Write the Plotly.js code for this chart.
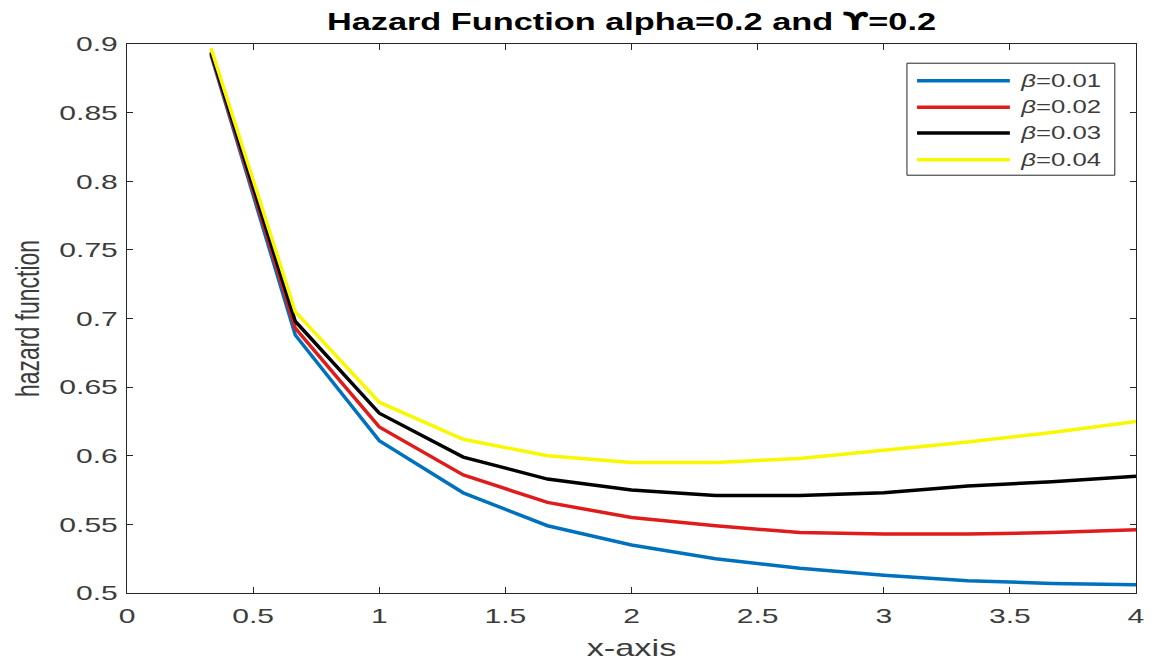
<!DOCTYPE html>
<html>
<head>
<meta charset="utf-8">
<script src="https://cdn.plot.ly/plotly-3.0.1.min.js"></script>
<style>
  html, body { margin: 0; padding: 0; background: #fff; }
  #chart { width: 1156px; height: 661px; }
</style>
</head>
<body>
<div id="chart"></div>
<script>
// x grid of the hazard evaluation
const xVals = [0.333, 0.667, 1, 1.333, 1.667, 2, 2.333, 2.667, 3, 3.333, 3.667, 4];

// hazard values for each beta
const hBeta001 = [0.892, 0.688, 0.611, 0.573, 0.549, 0.535, 0.525, 0.518, 0.513, 0.509, 0.507, 0.506];
const hBeta002 = [0.893, 0.693, 0.621, 0.586, 0.566, 0.555, 0.549, 0.544, 0.543, 0.543, 0.544, 0.546];
const hBeta003 = [0.894, 0.698, 0.631, 0.599, 0.583, 0.575, 0.571, 0.571, 0.573, 0.578, 0.581, 0.585];
const hBeta004 = [0.897, 0.705, 0.639, 0.612, 0.600, 0.595, 0.595, 0.598, 0.604, 0.610, 0.617, 0.625];

const seriesNames = ['β=0.01', 'β=0.02', 'β=0.03', 'β=0.04'];
const seriesColors = ['#0072BD', '#E01B1B', '#000000', '#F8F800'];

// axis ticks
const xTickVals = [0, 0.5, 1, 1.5, 2, 2.5, 3, 3.5, 4];
const xTickText = ['0', '0.5', '1', '1.5', '2', '2.5', '3', '3.5', '4'];
const yTickVals = [0.5, 0.55, 0.6, 0.65, 0.7, 0.75, 0.8, 0.85, 0.9];
const yTickText = ['0.5', '0.55', '0.6', '0.65', '0.7', '0.75', '0.8', '0.85', '0.9'];

const FONT = 'Liberation Sans, Arial, Helvetica, sans-serif';
const AXIS = '#262626';
const TEXTGRAY = '#3c3c3c';
const WIDEN = 1.43;   // horizontal stretch applied to all text
const LW = 3.5;       // curve width

const allY = [hBeta001, hBeta002, hBeta003, hBeta004];
const traces = allY.map((y, i) => ({
  type: 'scatter',
  mode: 'lines',
  x: xVals,
  y: y,
  name: seriesNames[i],
  line: { color: seriesColors[i], width: LW },
  hoverinfo: 'x+y+name'
}));

// boxed legend in the upper right corner, drawn with shapes and annotations
const legBox = { x0: 0.773, x1: 0.979, y0: 0.761, y1: 0.965 };
const legRows = [0.933, 0.885, 0.838, 0.789];
const shapes = [{
  type: 'rect', xref: 'paper', yref: 'paper',
  x0: legBox.x0, x1: legBox.x1, y0: legBox.y0, y1: legBox.y1,
  line: { color: AXIS, width: 1 }, fillcolor: '#ffffff', layer: 'above'
}];
const annotations = [];
seriesNames.forEach((nm, i) => {
  shapes.push({
    type: 'line', xref: 'paper', yref: 'paper',
    x0: 0.783, x1: 0.875, y0: legRows[i], y1: legRows[i],
    line: { color: seriesColors[i], width: LW }, layer: 'above'
  });
  annotations.push({
    xref: 'paper', yref: 'paper', x: 0.925, y: legRows[i],
    xanchor: 'center', yanchor: 'middle', showarrow: false,
    text: '<i>' + nm.slice(0, 1) + '</i>' + nm.slice(1),
    font: { family: FONT, size: 18, color: TEXTGRAY }
  });
});

const layout = {
  width: 1156, height: 661,
  margin: { l: 127, r: 20, t: 44, b: 68, pad: 0 },
  paper_bgcolor: '#ffffff', plot_bgcolor: '#ffffff',
  showlegend: false,
  font: { family: FONT, color: TEXTGRAY },
  title: {
    text: '<b>Hazard Function alpha=0.2 and <span style="font-family:DejaVu Sans">ϒ</span>=0.2</b>',
    font: { family: FONT, size: 24, color: '#000000' },
    x: 0.5, xref: 'paper', y: 1 - 22 / 661, yref: 'container', yanchor: 'middle'
  },
  xaxis: {
    range: [0, 4], tickvals: xTickVals, ticktext: xTickText,
    showgrid: false, zeroline: false,
    showline: true, linecolor: AXIS, linewidth: 1, mirror: 'ticks',
    ticks: 'inside', ticklen: 6, tickwidth: 1, tickcolor: AXIS,
    ticklabelstandoff: 4,
    tickfont: { family: FONT, size: 21, color: TEXTGRAY },
    title: { text: 'x-axis', font: { family: FONT, size: 24, color: TEXTGRAY }, standoff: 18 }
  },
  yaxis: {
    range: [0.5, 0.9], tickvals: yTickVals, ticktext: yTickText,
    showgrid: false, zeroline: false,
    showline: true, linecolor: AXIS, linewidth: 1, mirror: 'ticks',
    ticks: 'inside', ticklen: 6, tickwidth: 1, tickcolor: AXIS,
    ticklabelstandoff: 4,
    tickfont: { family: FONT, size: 21, color: TEXTGRAY },
    title: { text: 'hazard function', font: { family: FONT, size: 23, color: TEXTGRAY }, standoff: 34 }
  },
  shapes: shapes,
  annotations: annotations
};

// stretch a text element horizontally on screen around a chosen anchor
function widen(el, sx, anchor, vertical) {
  const b = el.getBBox();
  let cx = b.x + b.width / 2;
  let cy = b.y + b.height / 2;
  if (anchor === 'right') cx = b.x + b.width;
  if (anchor === 'left') cx = b.x;
  const prev = el.getAttribute('transform') || '';
  const s = vertical ? `scale(1,${sx})` : `scale(${sx},1)`;
  el.setAttribute('transform', `${prev} translate(${cx},${cy}) ${s} translate(${-cx},${-cy})`);
}

Plotly.newPlot('chart', traces, layout, { displayModeBar: false, staticPlot: true }).then(gd => {
  gd.querySelectorAll('.xtick text').forEach(t => widen(t, WIDEN, 'center'));
  gd.querySelectorAll('.ytick text').forEach(t => widen(t, WIDEN, 'right'));
  gd.querySelectorAll('.g-gtitle text, .gtitle').forEach(t => widen(t, WIDEN, 'center'));
  gd.querySelectorAll('.g-xtitle text').forEach(t => widen(t, WIDEN, 'center'));
  gd.querySelectorAll('.g-ytitle text').forEach(t => widen(t, WIDEN, 'center', true));
  gd.querySelectorAll('.annotation-text').forEach(t => widen(t, WIDEN, 'center'));
});
</script>
</body>
</html>
